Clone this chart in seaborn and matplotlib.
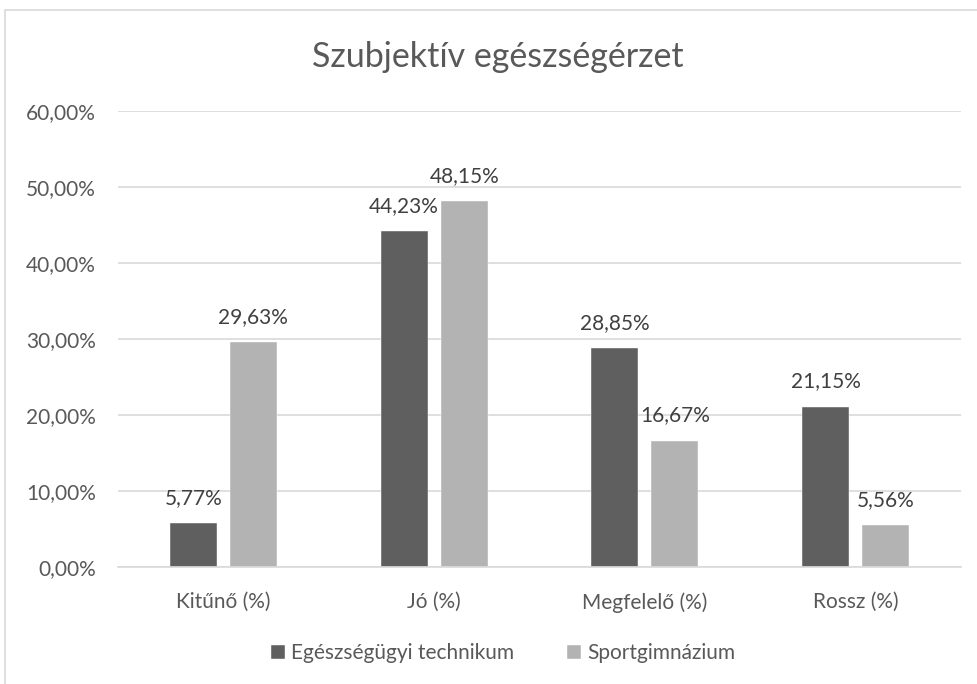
import matplotlib
matplotlib.use("Agg")
import matplotlib.pyplot as plt
import seaborn as sns
import pandas as pd
from matplotlib.patches import Rectangle

categories = ["Kitűnő (%)", "Jó (%)", "Megfelelő (%)", "Rossz (%)"]
series_names = ["Egészségügyi technikum", "Sportgimnázium"]
techn_values = [5.77, 44.23, 28.85, 21.15]
sport_values = [29.63, 48.15, 16.67, 5.56]
y_ticks = [0, 10, 20, 30, 40, 50, 60]

df = pd.DataFrame({
    "kategoria": categories * 2,
    "iskola": [series_names[0]] * 4 + [series_names[1]] * 4,
    "ertek": techn_values + sport_values,
})

sns.set_theme(style="white")
plt.rcParams["font.family"] = ["Lato", "DejaVu Sans"]

txt = "#595959"
grid_c = "#d9d9d9"

fig = plt.figure(figsize=(9.77, 6.84), dpi=100)
ax = fig.add_axes([0.1208, 0.1706, 0.8628, 0.6667])

sns.barplot(data=df, x="kategoria", y="ertek", hue="iskola",
            palette=["#5f5f5f", "#b3b3b3"], width=0.57, gap=0.218,
            edgecolor="#ffffff", linewidth=0.3, ax=ax, legend=True)

ax.set_ylim(0, 60)
ax.set_xlim(-0.5, 3.5)
ax.set_yticks(y_ticks)
ax.set_yticklabels([f"{t:.2f}%".replace(".", ",") for t in y_ticks])
ax.set_xlabel("")
ax.set_ylabel("")
ax.yaxis.grid(True, color=grid_c, linewidth=1.2)
ax.set_axisbelow(True)
for s in ["top", "right", "left"]:
    ax.spines[s].set_visible(False)
ax.spines["bottom"].set_color(grid_c)
ax.spines["bottom"].set_linewidth(1.2)
ax.tick_params(axis="both", length=0, labelsize=15, labelcolor=txt)
ax.tick_params(axis="x", pad=18)
ax.tick_params(axis="y", pad=16)

for cont in ax.containers:
    ax.bar_label(cont, labels=[f"{v:.2f}%".replace(".", ",") for v in cont.datavalues],
                 padding=11, fontsize=15, color="#404040")

handles, labels = ax.get_legend_handles_labels()
ax.get_legend().remove()
fig.legend(handles, labels, loc="center", bbox_to_anchor=(0.515, 0.045), ncol=2,
           frameon=False, fontsize=15, labelcolor=txt, handlelength=0.7,
           handleheight=0.7, handletextpad=0.3, columnspacing=2.5)

fig.text(0.51, 0.916, "Szubjektív egészségérzet", ha="center", va="center",
         fontsize=24.5, color=txt)

fig.patches.append(Rectangle((0.0056, -0.1), 1.2, 1.085, transform=fig.transFigure,
                             fill=False, edgecolor=grid_c, linewidth=1.2))

fig.savefig("out.png", dpi=100, facecolor="white")
